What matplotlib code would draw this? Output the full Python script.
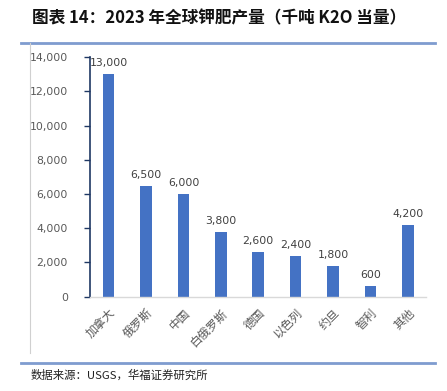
import matplotlib
matplotlib.use("Agg")
import matplotlib.pyplot as plt
from matplotlib.lines import Line2D
from matplotlib.ticker import FuncFormatter

plt.rcParams['font.family'] = ['Noto Sans CJK SC', 'DejaVu Sans']

categories = ["加拿大", "俄罗斯", "中国", "白俄罗斯", "德国", "以色列", "约旦", "智利", "其他"]
values = [13000, 6500, 6000, 3800, 2600, 2400, 1800, 600, 4200]
yticks = [0, 2000, 4000, 6000, 8000, 10000, 12000, 14000]

fig = plt.figure(figsize=(4.47, 3.91), dpi=100)
ax = fig.add_axes([0.2013, 0.2412, 0.7527, 0.6123])

x = range(len(categories))
ax.bar(x, values, width=0.31, color="#4472C4", zorder=2)
for xi, v in zip(x, values):
    ax.text(xi, v + 350, f"{v:,}", ha="center", va="bottom", fontsize=7.8, color="#404040",
            family="DejaVu Sans")

ax.set_xlim(-0.5, len(categories) - 0.5)
ax.set_ylim(0, 14000)
ax.set_yticks(yticks)
ax.yaxis.set_major_formatter(FuncFormatter(lambda v, p: f"{int(v):,}"))
ax.set_xticks(list(x))
ax.set_xticklabels(categories, rotation=45, ha="right", rotation_mode="anchor",
                   fontsize=8.5, color="#595959")
for lab in ax.get_yticklabels():
    lab.set_fontsize(7.8)
    lab.set_color("#595959")
    lab.set_family("DejaVu Sans")

for s in ["top", "right"]:
    ax.spines[s].set_visible(False)
ax.spines["left"].set_color("#1F3864")
ax.spines["left"].set_linewidth(1.2)
ax.spines["bottom"].set_color("#D9D9D9")
ax.spines["bottom"].set_linewidth(1.0)
ax.tick_params(axis="y", length=4, width=1, color="#1F3864", pad=12)
ax.tick_params(axis="x", length=0, pad=7)

# decorative frame lines
fig.add_artist(Line2D([0.047, 0.973], [0.8893, 0.8893], color="#7F9CCF", lw=2, transform=fig.transFigure))
fig.add_artist(Line2D([0.047, 0.973], [0.0724, 0.0724], color="#7F9CCF", lw=2, transform=fig.transFigure))
fig.add_artist(Line2D([0.067, 0.067], [0.8893, 0.097], color="#D0D0D0", lw=0.8, transform=fig.transFigure))

fig.text(0.072, 0.952, "图表 14：2023 年全球钾肥产量（千吨 K2O 当量）", fontsize=12,
         fontweight="bold", color="#111111", va="center", ha="left")
fig.text(0.068, 0.041, "数据来源：USGS，华福证券研究所", fontsize=8.2, color="#222222",
         va="center", ha="left")

fig.savefig("out.png", dpi=100)
